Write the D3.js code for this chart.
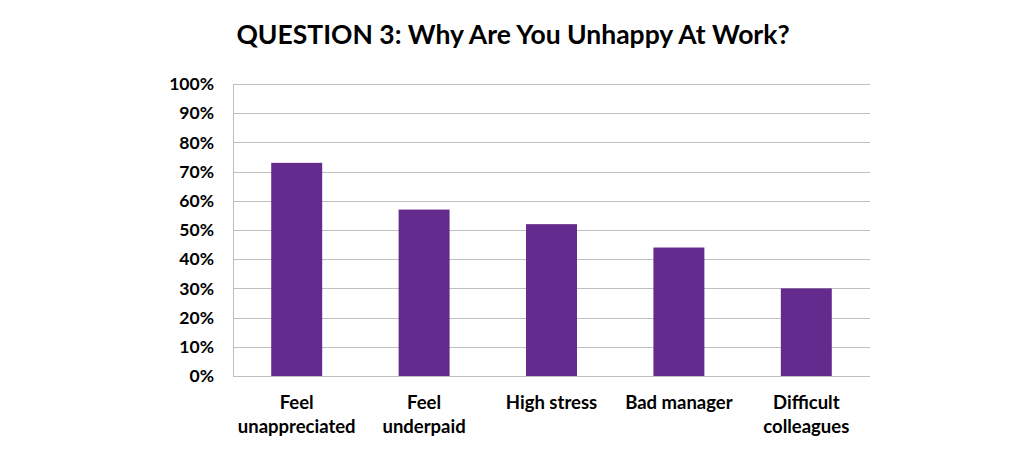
<!DOCTYPE html>
<html>
<head>
<meta charset="utf-8">
<script src="https://cdn.jsdelivr.net/npm/d3@7"></script>
<style>
  body { margin: 0; background: #fff; }
  svg { display: block; }
  text { font-family: Lato, "Liberation Sans", sans-serif; font-weight: bold; fill: #000; }
</style>
</head>
<body>
<div id="chart"></div>
<script>
// chart values
const categories = [["Feel", "unappreciated"], ["Feel", "underpaid"], ["High stress"], ["Bad manager"], ["Difficult", "colleagues"]];
const values = [0.73, 0.57, 0.52, 0.44, 0.30];
const yTicks = [0, 0.1, 0.2, 0.3, 0.4, 0.5, 0.6, 0.7, 0.8, 0.9, 1.0];
const title = "QUESTION 3: Why Are You Unhappy At Work?";

const width = 1024, height = 467;
const margin = {top: 84, right: 154, bottom: 91, left: 233};
const innerW = width - margin.left - margin.right;
const innerH = height - margin.top - margin.bottom;

const svg = d3.select("#chart").append("svg")
    .attr("width", width)
    .attr("height", height);

//Title
svg.append("text")
    .attr("x", 513)
    .attr("y", 44)
    .attr("text-anchor", "middle")
    .attr("font-size", 26.5)
    .text(title);

const g = svg.append("g")
    .attr("transform", "translate(" + margin.left + "," + margin.top + ")");

const x = d3.scaleBand()
    .domain(d3.range(categories.length))
    .range([0, innerW])
    .paddingInner(0.6)
    .paddingOuter(0.3);

const y = d3.scaleLinear()
    .domain([0, 1])
    .range([innerH, 0]);

//Grid lines
g.append("g")
    .selectAll("line")
    .data(yTicks)
    .join("line")
    .attr("x1", 0)
    .attr("x2", innerW)
    .attr("y1", d => Math.round(y(d)) + 0.5)
    .attr("y2", d => Math.round(y(d)) + 0.5)
    .attr("stroke", "#bfbfbf")
    .attr("stroke-width", 1);

//Y axis
const yAxis = d3.axisLeft(y)
    .tickValues(yTicks)
    .tickFormat(d3.format(".0%"))
    .tickSize(0)
    .tickPadding(19);
const yG = g.append("g").call(yAxis);
yG.select(".domain").attr("stroke", "#bfbfbf");
yG.selectAll("text")
    .attr("font-size", 17.5)
    .attr("font-family", "Lato, 'Liberation Sans', sans-serif")
    .attr("fill", "#000");

//Bars
g.append("g")
    .selectAll("rect")
    .data(values)
    .join("rect")
    .attr("x", (d, i) => x(i))
    .attr("y", d => y(d))
    .attr("width", x.bandwidth())
    .attr("height", d => innerH - y(d))
    .attr("fill", "#632b8d");

//Category labels
const labels = g.append("g")
    .selectAll("text")
    .data(categories)
    .join("text")
    .attr("text-anchor", "middle")
    .attr("font-size", 18.5)
    .attr("x", (d, i) => x(i) + x.bandwidth() / 2)
    .attr("y", innerH + 33);
labels.selectAll("tspan")
    .data(d => d)
    .join("tspan")
    .attr("x", function () { return this.parentNode.getAttribute("x"); })
    .attr("dy", (d, i) => i === 0 ? 0 : 24)
    .text(d => d);
</script>
</body>
</html>
